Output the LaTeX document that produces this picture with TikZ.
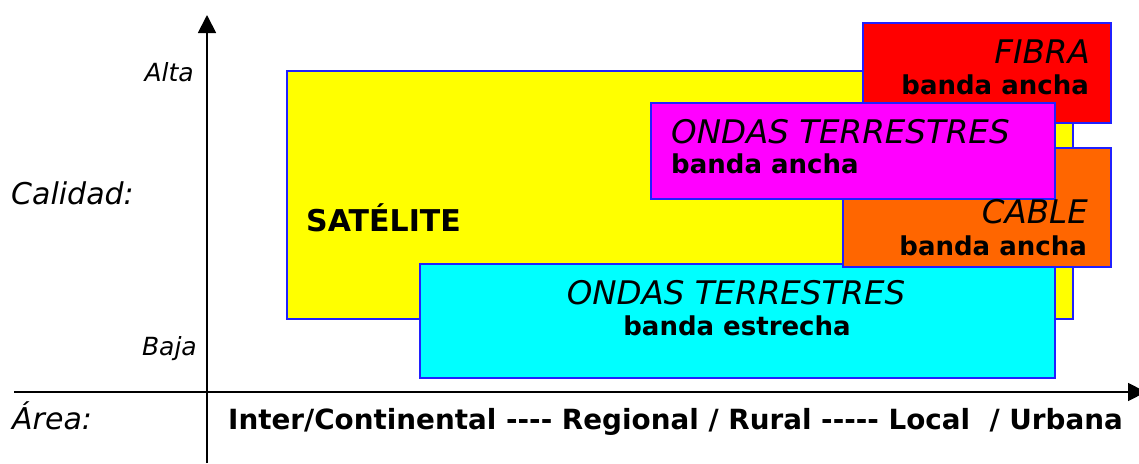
\documentclass[tikz,border=0pt]{standalone}
\usepackage{fontspec}
\setmainfont{DejaVu Sans}
\usetikzlibrary{arrows.meta}

\definecolor{amarillo}{HTML}{FFFF00}
\definecolor{celeste}{HTML}{00FFFF}
\definecolor{rojo}{HTML}{FF0000}
\definecolor{naranja}{HTML}{FF6600}
\definecolor{fucsia}{HTML}{FF00FF}
\definecolor{borde}{HTML}{2020FF}

\tikzset{
  zona/.style={draw=borde, line width=1.5pt, anchor=north west, inner sep=0pt},
  medio/.style={font=\fontsize{32.5}{32.5}\selectfont\itshape, inner sep=0pt},
  banda/.style={font=\fontsize{26}{26}\selectfont\bfseries, inner sep=0pt},
  nivel/.style={font=\fontsize{25}{25}\selectfont\itshape, inner sep=0pt, anchor=base east},
  eje/.style={line width=1.8pt, -{Triangle[length=18pt,width=18pt]}}
}

\begin{document}
\begin{tikzpicture}[x=1pt,y=-1pt]
\useasboundingbox (0,0) rectangle (1139,463);

%% zones
\node[zona, fill=amarillo, minimum width=786pt, minimum height=248pt] (satelite) at (286,70) {};
\node[zona, fill=celeste, minimum width=635pt, minimum height=114pt] (terrEst) at (419,263) {};
\node[zona, fill=rojo, minimum width=248pt, minimum height=100pt] (fibra) at (862,22) {};
\node[zona, fill=naranja, minimum width=268pt, minimum height=119pt] (cable) at (842,147) {};
\node[zona, fill=fucsia, minimum width=404pt, minimum height=96pt] (terrAnc) at (650,102) {};

%% zone labels
\node[font=\fontsize{30}{30}\selectfont\bfseries, inner sep=0pt, anchor=base west] (satTxt) at (306,231) {SATÉLITE};
\node[medio, anchor=base] (estTit) at (736,304) {ONDAS TERRESTRES};
\node[banda, anchor=base] (estSub) at (737,335) {banda estrecha};
\node[medio, anchor=base east] (fibTit) at (1090,63) {FIBRA};
\node[banda, anchor=base east] (fibSub) at (1089,94) {banda ancha};
\node[medio, anchor=base east] (cabTit) at (1088,223) {CABLE};
\node[banda, anchor=base east] (cabSub) at (1087,255) {banda ancha};
\node[medio, anchor=base west] (ancTit) at (671,143) {ONDAS TERRESTRES};
\node[banda, anchor=base west] (ancSub) at (671,173) {banda ancha};

%% axes
\coordinate (yBajo) at (207,463);
\coordinate (yAlto) at (207,15);
\coordinate (xIzq) at (14,392);
\coordinate (xDer) at (1146,392);
\draw[eje] (yBajo) -- (yAlto);
\draw[eje] (xIzq) -- (xDer);

%% axis labels
\node[nivel] (alta) at (194,81) {Alta};
\node[nivel] (baja) at (197,355) {Baja};
\node[font=\fontsize{30}{30}\selectfont\itshape, inner sep=0pt, anchor=base west] (calidad) at (11,204) {Calidad:};
\node[font=\fontsize{30}{30}\selectfont\itshape, inner sep=0pt, anchor=base west] (area) at (12,429) {Área:};
\node[font=\fontsize{27.8}{27.8}\selectfont\bfseries, inner sep=0pt, anchor=base west] (escala) at (228,429)
  {Inter/Continental -{}-{}-{}- Regional / Rural -{}-{}-{}-{}- Local\ \ / Urbana};
\end{tikzpicture}
\end{document}
